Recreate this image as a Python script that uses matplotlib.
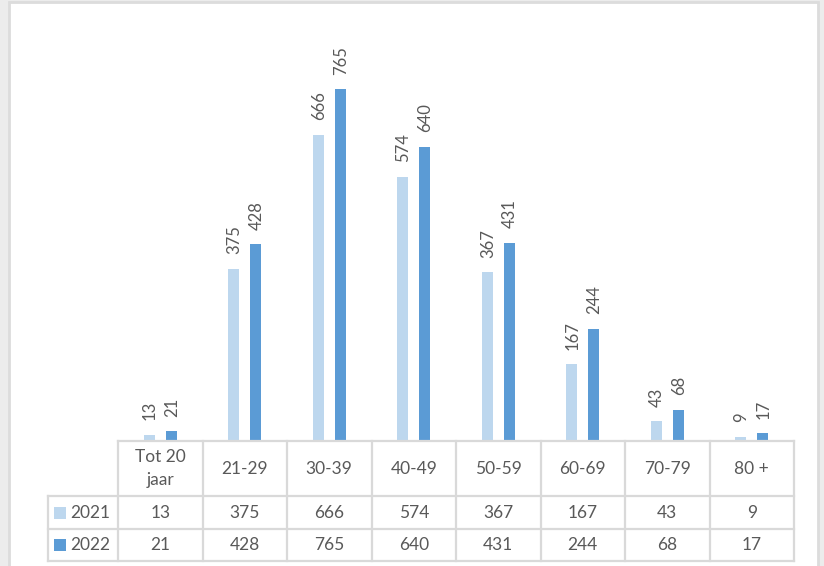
import matplotlib
matplotlib.use('Agg')
import matplotlib.pyplot as plt
from matplotlib.patches import Rectangle
import numpy as np

plt.rcParams['font.family'] = ['Lato', 'DejaVu Sans']

categories = ['Tot 20\njaar', '21-29', '30-39', '40-49', '50-59', '60-69', '70-79', '80 +']
series_names = ['2021', '2022']
values_2021 = [13, 375, 666, 574, 367, 167, 43, 9]
values_2022 = [21, 428, 765, 640, 431, 244, 68, 17]

light = '#bdd7ee'
dark = '#5b9bd5'
text_col = '#595959'
grid_col = '#d9d9d9'

W, H = 824, 566


def fx(px):
    return px / W


def fy(py):
    return 1 - py / H


fig = plt.figure(figsize=(W / 100, H / 100), dpi=100)
fig.patch.set_facecolor('#ececec')

# white chart area with a soft grey frame
fig.patches.append(Rectangle((fx(9), -0.01), fx(818) - fx(9), fy(2) + 0.01,
                             transform=fig.transFigure, facecolor='white',
                             edgecolor='#dcdcdc', lw=2, zorder=-5))

# bars
ax = fig.add_axes([fx(118), fy(441), fx(794) - fx(118), fy(27) - fy(441)])
x = np.arange(len(categories))
w = 0.13
ax.bar(x - w, values_2021, w, color=light)
ax.bar(x + w, values_2022, w, color=dark)
for vals, off in ((values_2021, -w), (values_2022, w)):
    for xi, v in zip(x, vals):
        ax.annotate(str(v), (xi + off, v), xytext=(0.5, 10.5), textcoords='offset points',
                    rotation=90, ha='center', va='bottom', fontsize=12, color=text_col)
ax.set_xlim(-0.5, len(categories) - 0.5)
ax.set_ylim(0, 900)
ax.axis('off')

# data table under the bars
col_px = (794 - 118) / len(categories)
u = 1 / col_px
xl = -0.5 - 70 * u
xr = len(categories) - 0.5
tab = fig.add_axes([fx(48), fy(561), fx(794) - fx(48), fy(441) - fy(561)])
tab.set_xlim(xl, xr)
tab.set_ylim(120, 0)
tab.axis('off')

rows_y = [0, 55, 88, 120]
lk = dict(color=grid_col, lw=1.6, solid_capstyle='projecting', clip_on=False)
tab.plot([-0.5, xr], [0, 0], **lk)
for yy in rows_y[1:]:
    tab.plot([xl, xr], [yy, yy], **lk)
for i in range(len(categories) + 1):
    tab.plot([-0.5 + i, -0.5 + i], [0, 120], **lk)
tab.plot([xl, xl], [55, 120], **lk)

for i, c in enumerate(categories):
    tab.text(i, 27.5, c, ha='center', va='center', fontsize=12.5,
             color=text_col, linespacing=1.6)

for r, (name, vals, col) in enumerate(zip(series_names, [values_2021, values_2022], [light, dark])):
    yc = (rows_y[r + 1] + rows_y[r + 2]) / 2
    tab.add_patch(Rectangle((xl + 6 * u, yc - 6), 12 * u, 12, facecolor=col, edgecolor='none'))
    tab.text(xl + 22 * u, yc, name, ha='left', va='center', fontsize=12.5, color=text_col)
    for i, v in enumerate(vals):
        tab.text(i, yc, str(v), ha='center', va='center', fontsize=12.5, color=text_col)

fig.savefig('out.png', dpi=100, facecolor=fig.get_facecolor())
